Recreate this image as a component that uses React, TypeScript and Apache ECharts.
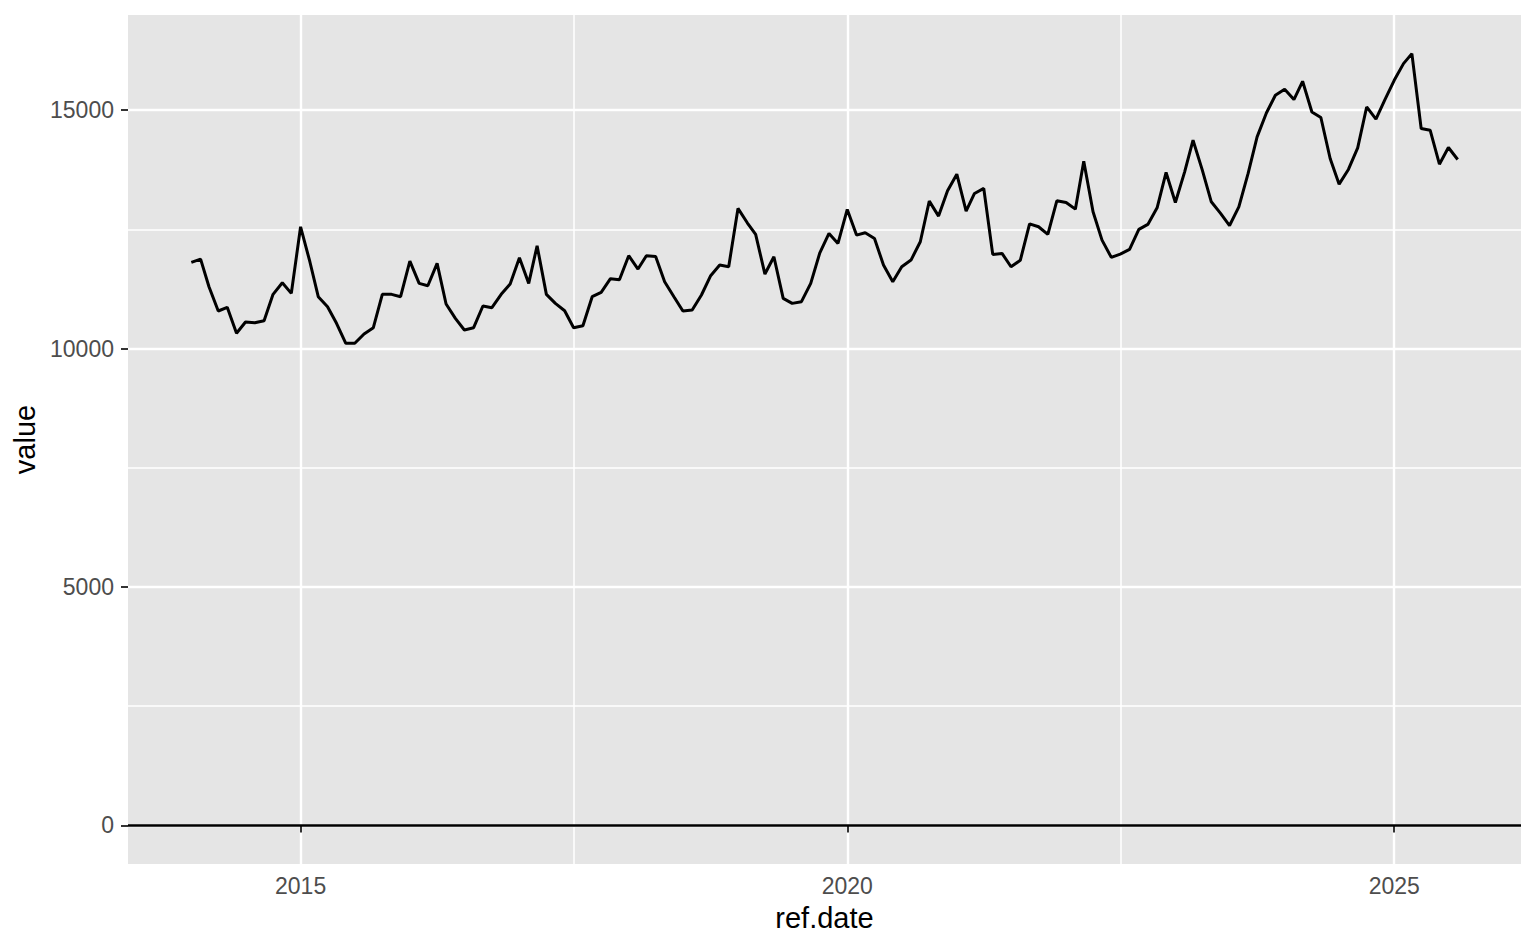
import React, { useEffect, useRef } from "react";
import * as echarts from "echarts";

// Monthly values, Jan 2014 – Aug 2025
const startYear = 2014;
const values = [
  // 2014
  11808, 11877, 11297, 10788, 10865, 10320, 10557, 10543, 10585, 11137, 11381, 11158,
  // 2015
  12554, 11821, 11088, 10878, 10530, 10111, 10111, 10306, 10438, 11137, 11137, 11088,
  // 2016
  11835, 11367, 11318, 11786, 10934, 10634, 10390, 10438, 10892, 10857, 11137, 11353,
  // 2017
  11905, 11367, 12156, 11137, 10948, 10794, 10438, 10480, 11088, 11180, 11465, 11444,
  // 2018
  11947, 11668, 11947, 11933, 11402, 11088, 10788, 10809, 11123, 11521, 11751, 11716,
  // 2019
  12939, 12638, 12394, 11563, 11926, 11053, 10948, 10983, 11367, 12000, 12415, 12205,
  // 2020
  12918, 12380, 12428, 12310, 11751, 11402, 11716, 11856, 12240, 13092, 12778, 13308,
  // 2021
  13657, 12882, 13253, 13358, 11975, 11996, 11716, 11850, 12615, 12554, 12394, 13099,
  // 2022
  13064, 12924, 13930, 12868, 12275, 11912, 11982, 12080, 12499, 12604, 12952, 13693,
  // 2023
  13064, 13706, 14370, 13741, 13078, 12834, 12580, 12970, 13672, 14439, 14941, 15312,
  // 2024
  15438, 15222, 15605, 14962, 14845, 13986, 13448, 13756, 14208, 15067, 14810, 15222,
  // 2025
  15626, 15976, 16186, 14615, 14579, 13867, 14217, 13965,
];

const yBreaks = [0, 5000, 10000, 15000];
const yMinorBreaks = [2500, 7500, 12500];
const xBreakYears = [2015, 2020, 2025];
const xMinorBreakDates: [number, number, number][] = [
  [2017, 6, 2],
  [2022, 6, 2],
];

const FONT = "'Liberation Sans', Arial, Helvetica, sans-serif";

export default function App() {
  const ref = useRef<HTMLDivElement>(null);

  useEffect(() => {
    if (!ref.current) return;
    const chart = echarts.init(ref.current, null, { renderer: "svg" });

    const monthTime = (i: number) =>
      Date.UTC(startYear + Math.floor(i / 12), i % 12, 1);
    const data = values.map((v, i) => [monthTime(i), v]);

    const t0 = monthTime(0);
    const t1 = monthTime(values.length - 1);
    const xPad = (t1 - t0) * 0.05;
    const yMaxData = Math.max(...values);
    const yMinData = 0;
    const yPad = (yMaxData - yMinData) * 0.05;

    const xBreaks = xBreakYears.map((y) => Date.UTC(y, 0, 1));
    const xMinor = xMinorBreakDates.map(([y, m, d]) => Date.UTC(y, m, d));

    const tickStyle = { color: "#333333", width: 2 };
    const majorGrid = { color: "#FFFFFF", width: 2.4 };
    const minorGrid = { color: "#FFFFFF", width: 1.5 };

    chart.setOption({
      animation: false,
      backgroundColor: "#FFFFFF",
      grid: {
        left: 128,
        right: 15,
        top: 15,
        bottom: 85,
        show: true,
        backgroundColor: "#E5E5E5",
        borderWidth: 0,
      },
      xAxis: [
        {
          type: "value",
          min: t0 - xPad,
          max: t1 + xPad,
          name: "ref.date",
          nameLocation: "middle",
          nameGap: 39,
          nameTextStyle: { fontFamily: FONT, fontSize: 29, color: "#000000" },
          axisLine: { show: false },
          axisTick: {
            show: true,
            length: 7,
            lineStyle: tickStyle,
            customValues: xBreaks,
          },
          axisLabel: {
            show: true,
            customValues: xBreaks,
            formatter: (v: number) => String(new Date(v).getUTCFullYear()),
            fontFamily: FONT,
            fontSize: 23,
            color: "#4D4D4D",
            margin: 10,
          },
          splitLine: { show: true, lineStyle: majorGrid },
        },
        {
          type: "value",
          min: t0 - xPad,
          max: t1 + xPad,
          axisLine: { show: false },
          axisTick: { show: false, customValues: xMinor },
          axisLabel: { show: false, customValues: xMinor },
          splitLine: { show: true, lineStyle: minorGrid },
        },
      ],
      yAxis: [
        {
          type: "value",
          min: yMinData - yPad,
          max: yMaxData + yPad,
          name: "value",
          nameLocation: "middle",
          nameGap: 85,
          nameTextStyle: { fontFamily: FONT, fontSize: 29, color: "#000000" },
          axisLine: { show: false },
          axisTick: {
            show: true,
            length: 7,
            lineStyle: tickStyle,
            customValues: yBreaks,
          },
          axisLabel: {
            show: true,
            customValues: yBreaks,
            formatter: (v: number) => String(v),
            fontFamily: FONT,
            fontSize: 23,
            color: "#4D4D4D",
            margin: 14,
          },
          splitLine: { show: true, lineStyle: majorGrid },
        },
        {
          type: "value",
          min: yMinData - yPad,
          max: yMaxData + yPad,
          axisLine: { show: false },
          axisTick: { show: false, customValues: yMinorBreaks },
          axisLabel: { show: false, customValues: yMinorBreaks },
          splitLine: { show: true, lineStyle: minorGrid },
        },
      ],
      series: [
        {
          type: "line",
          xAxisIndex: 0,
          yAxisIndex: 0,
          data,
          symbol: "none",
          lineStyle: { color: "#000000", width: 3 },
          markLine: {
            silent: true,
            symbol: "none",
            label: { show: false },
            lineStyle: { color: "#000000", width: 2.5, type: "solid" },
            data: [{ yAxis: 0 }],
          },
        },
      ],
    });

    return () => chart.dispose();
  }, []);

  return (
    <div
      ref={ref}
      style={{ position: "absolute", left: 0, top: 0, width: 1536, height: 949 }}
    />
  );
}
